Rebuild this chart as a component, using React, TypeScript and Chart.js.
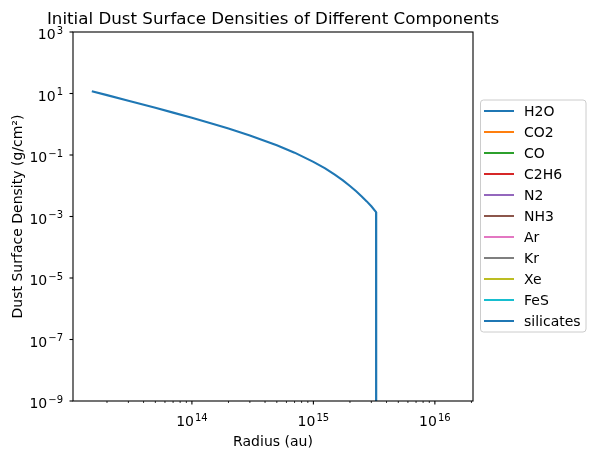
import { useEffect, useRef } from "react"
import { Chart, registerables } from "chart.js"

Chart.register(...registerables)

// radius (cm, labelled au in the source plot) and surface density (g/cm²)
const radii = [
  1.5e13, 2e13, 3e13, 5e13, 7e13, 1e14, 1.5e14, 2e14, 3e14, 5e14, 7e14, 1e15,
  1.25e15, 1.5e15, 1.75e15, 2e15, 2.25e15, 2.5e15, 2.75e15, 3e15, 3.28e15, 3.29e15, 1.5e16,
]
// H2O: after the snow line the density is zero (shown as a tiny value on the log axis)
const h2o = [
  11.9, 8.85, 5.83, 3.42, 2.39, 1.62, 1.02, 0.724, 0.432, 0.207, 0.119, 0.0596,
  0.037, 0.0228, 0.0149, 0.0098, 0.0066, 0.0045, 0.0031, 0.00215, 0.0014, 1e-30, 1e-30,
]
// the other components are zero everywhere, nothing visible on a log axis
const co2: number[] = []
const co: number[] = []
const c2h6: number[] = []
const n2: number[] = []
const nh3: number[] = []
const ar: number[] = []
const kr: number[] = []
const xe: number[] = []
const fes: number[] = []
const silicates: number[] = []

const components = ["H2O", "CO2", "CO", "C2H6", "N2", "NH3", "Ar", "Kr", "Xe", "FeS", "silicates"]
const componentValues = [h2o, co2, co, c2h6, n2, nh3, ar, kr, xe, fes, silicates]
const colors = [
  "#1f77b4", "#ff7f0e", "#2ca02c", "#d62728", "#9467bd", "#8c564b",
  "#e377c2", "#7f7f7f", "#bcbd22", "#17becf", "#1f77b4",
]

const yMajorExps = [-9, -7, -5, -3, -1, 1, 3]
const xMajorExps = [14, 15, 16]
const xMinorDecades = [13, 14, 15, 16]

const FONT = "'DejaVu Sans', sans-serif"

function drawPower(ctx: CanvasRenderingContext2D, exp: number, x: number, y: number, align: "center" | "right") {
  const base = "10"
  const sup = exp < 0 ? "\u2212" + Math.abs(exp) : String(exp)
  ctx.font = `14px ${FONT}`
  const wb = ctx.measureText(base).width
  ctx.font = `10px ${FONT}`
  const ws = ctx.measureText(sup).width
  const total = wb + ws + 1
  const left = align === "center" ? x - total / 2 : x - total
  ctx.textAlign = "left"
  ctx.textBaseline = "alphabetic"
  ctx.font = `14px ${FONT}`
  ctx.fillText(base, left, y)
  ctx.font = `10px ${FONT}`
  ctx.fillText(sup, left + wb + 1, y - 5.5)
}

const decorations = {
  id: "decorations",
  afterDraw(chart: any) {
    const ctx: CanvasRenderingContext2D = chart.ctx
    const { left, right, top, bottom } = chart.chartArea
    const xs = chart.scales.x
    const ys = chart.scales.y
    ctx.save()
    ctx.fillStyle = "#000"
    ctx.strokeStyle = "#000"

    // frame
    ctx.lineWidth = 1.1
    ctx.strokeRect(left, top, right - left, bottom - top)

    // y ticks
    ctx.lineWidth = 1.1
    yMajorExps.forEach((e) => {
      const y = ys.getPixelForValue(Math.pow(10, e))
      ctx.beginPath()
      ctx.moveTo(left - 3.5, y)
      ctx.lineTo(left, y)
      ctx.stroke()
      drawPower(ctx, e, left - 10, y + 7, "right")
    })

    // x ticks
    xMajorExps.forEach((e) => {
      const x = xs.getPixelForValue(Math.pow(10, e))
      ctx.beginPath()
      ctx.moveTo(x, bottom)
      ctx.lineTo(x, bottom + 3.5)
      ctx.stroke()
      drawPower(ctx, e, x, bottom + 25, "center")
    })
    ctx.lineWidth = 0.8
    xMinorDecades.forEach((d) => {
      for (let k = 2; k <= 9; k++) {
        const v = k * Math.pow(10, d)
        if (v < xs.min || v > xs.max) continue
        const x = xs.getPixelForValue(v)
        ctx.beginPath()
        ctx.moveTo(x, bottom)
        ctx.lineTo(x, bottom + 2)
        ctx.stroke()
      }
    })

    // title and axis labels
    ctx.textAlign = "center"
    ctx.textBaseline = "alphabetic"
    ctx.font = `16.7px ${FONT}`
    ctx.fillText("Initial Dust Surface Densities of Different Components", (left + right) / 2, 24)
    ctx.font = `14px ${FONT}`
    ctx.fillText("Radius (au)", (left + right) / 2, 446)
    ctx.save()
    ctx.translate(22, (top + bottom) / 2)
    ctx.rotate(-Math.PI / 2)
    ctx.fillText("Dust Surface Density (g/cm\u00b2)", 0, 0)
    ctx.restore()

    // legend
    const bx = 480.5
    const by = 100
    const bw = 105.5
    const bh = 232
    ctx.beginPath()
    ctx.roundRect(bx, by, bw, bh, 3)
    ctx.fillStyle = "rgba(255,255,255,0.8)"
    ctx.fill()
    ctx.strokeStyle = "#cccccc"
    ctx.lineWidth = 1
    ctx.stroke()
    ctx.font = `14px ${FONT}`
    ctx.textAlign = "left"
    ctx.textBaseline = "middle"
    chart.data.datasets.forEach((ds: any, i: number) => {
      const y = 111 + i * 21
      ctx.strokeStyle = ds.borderColor
      ctx.lineWidth = 2
      ctx.beginPath()
      ctx.moveTo(484, y)
      ctx.lineTo(514, y)
      ctx.stroke()
      ctx.fillStyle = "#000"
      ctx.fillText(ds.label, 524, y + 1)
    })
    ctx.restore()
  },
}

function DustChart() {
  const canvasRef = useRef<HTMLCanvasElement>(null)
  const chartRef = useRef<Chart | null>(null)

  useEffect(() => {
    if (!canvasRef.current) return
    if (chartRef.current) chartRef.current.destroy()
    const ctx = canvasRef.current.getContext("2d")
    if (!ctx) return

    chartRef.current = new Chart(ctx, {
      type: "line",
      data: {
        datasets: components.map((name, i) => ({
          label: name,
          data: componentValues[i].map((v, j) => ({ x: radii[j], y: v })),
          borderColor: colors[i],
          backgroundColor: colors[i],
          borderWidth: 2.1,
          pointRadius: 0,
          tension: 0,
          fill: false,
        })),
      },
      options: {
        animation: false,
        responsive: true,
        maintainAspectRatio: false,
        layout: { padding: { left: 73, top: 32, right: 122, bottom: 58 } },
        plugins: {
          legend: { display: false },
          title: { display: false },
          tooltip: { enabled: false },
        },
        scales: {
          x: { type: "logarithmic", min: 1.05e13, max: 2.06e16, display: false },
          y: { type: "logarithmic", min: 1e-9, max: 1e3, display: false },
        },
      },
      plugins: [decorations],
    })

    return () => {
      if (chartRef.current) {
        chartRef.current.destroy()
        chartRef.current = null
      }
    }
  }, [])

  return <canvas ref={canvasRef} />
}

export default function App() {
  return (
    <div style={{ position: "absolute", left: 0, top: 0, width: 595, height: 459, background: "#fff" }}>
      <DustChart />
    </div>
  )
}
